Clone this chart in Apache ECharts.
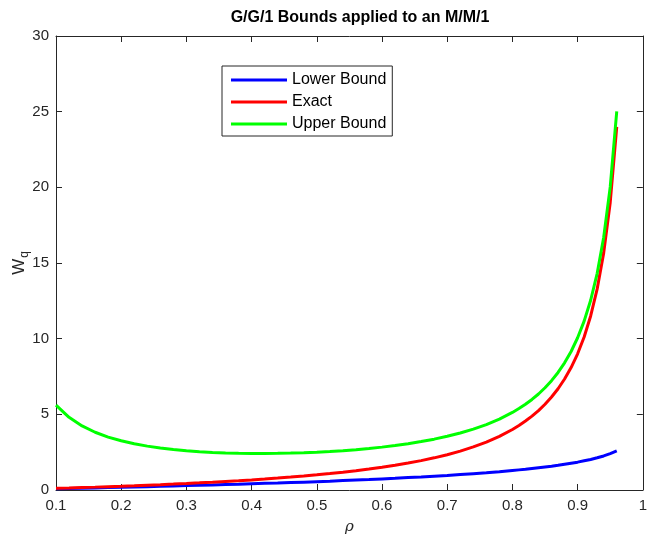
<!DOCTYPE html>
<html lang="en">
<head>
    <meta charset="UTF-8">
    <title>GG1 Bounds</title>
    <script src="https://cdn.jsdelivr.net/npm/echarts@6/dist/echarts.min.js"></script>
    <style type="text/css">
        html, body {
            margin: 0;
            width: 100%;
            height: 100%;
            background-color: #ffffff;
        }
        #chart {
            width: 650px;
            height: 542px;
        }
    </style>
</head>
<body>
    <div id="chart"></div>
    <script type="text/javascript">
        // rho values (x)
        var rho = [0.10, 0.12, 0.14, 0.16, 0.18, 0.20, 0.22, 0.24, 0.26, 0.28,
                   0.30, 0.32, 0.34, 0.36, 0.38, 0.40, 0.42, 0.44, 0.46, 0.48,
                   0.50, 0.52, 0.54, 0.56, 0.58, 0.60, 0.62, 0.64, 0.66, 0.68,
                   0.70, 0.72, 0.74, 0.76, 0.78, 0.80, 0.81, 0.82, 0.83, 0.84,
                   0.85, 0.86, 0.87, 0.88, 0.89, 0.90, 0.91, 0.92, 0.93, 0.94,
                   0.95, 0.96];
        // Wq
        var lowerBound = [0.08, 0.10, 0.12, 0.14, 0.16, 0.18, 0.20, 0.22, 0.24, 0.26,
                          0.29, 0.31, 0.33, 0.36, 0.38, 0.41, 0.44, 0.46, 0.49, 0.52,
                          0.55, 0.58, 0.62, 0.66, 0.69, 0.73, 0.77, 0.82, 0.86, 0.91,
                          0.96, 1.02, 1.08, 1.14, 1.21, 1.29, 1.33, 1.37, 1.42, 1.47,
                          1.52, 1.57, 1.63, 1.70, 1.77, 1.84, 1.93, 2.02, 2.13, 2.25,
                          2.40, 2.58];
        var exact = [0.111, 0.136, 0.163, 0.190, 0.220, 0.250, 0.282, 0.316, 0.351, 0.389,
                     0.429, 0.471, 0.515, 0.563, 0.613, 0.667, 0.724, 0.786, 0.852, 0.923,
                     1.000, 1.083, 1.174, 1.273, 1.381, 1.500, 1.632, 1.778, 1.941, 2.125,
                     2.333, 2.571, 2.846, 3.167, 3.545, 4.000, 4.263, 4.556, 4.882, 5.250,
                     5.667, 6.143, 6.692, 7.333, 8.091, 9.000, 10.11, 11.50, 13.29, 15.67,
                     19.00, 24.00];
        var upperBound = [5.611, 4.803, 4.234, 3.815, 3.497, 3.250, 3.055, 2.899, 2.774, 2.675,
                          2.595, 2.533, 2.486, 2.451, 2.429, 2.417, 2.415, 2.422, 2.439, 2.465,
                          2.500, 2.545, 2.600, 2.666, 2.743, 2.833, 2.938, 3.059, 3.199, 3.360,
                          3.548, 3.766, 4.022, 4.325, 4.687, 5.125, 5.380, 5.665, 5.985, 6.345,
                          6.755, 7.224, 7.767, 8.402, 9.153, 10.06, 11.16, 12.54, 14.32, 16.70,
                          20.03, 25.02];
        var seriesNames = ['Lower Bound', 'Exact', 'Upper Bound'];
        var seriesColors = ['#0000ff', '#ff0000', '#00ff00'];

        function pairs(ys) {
            var out = [];
            for (var i = 0; i < rho.length; i++) {
                out.push([rho[i], ys[i]]);
            }
            return out;
        }

        var axisColor = '#262626';
        var fontFamily = 'Liberation Sans, Arial, sans-serif';

        function xAxisDef(pos, showLabel) {
            return {
                type: 'value',
                position: pos,
                min: 0.1,
                max: 1,
                interval: 0.1,
                axisLine: { show: true, onZero: false, lineStyle: { color: axisColor, width: 1 } },
                axisTick: { show: true, inside: true, length: 6, lineStyle: { color: axisColor } },
                axisLabel: {
                    show: showLabel,
                    color: axisColor,
                    fontSize: 15,
                    fontFamily: fontFamily,
                    margin: 8,
                    formatter: function (v) { return String(+v.toFixed(1)); }
                },
                splitLine: { show: false }
            };
        }

        function yAxisDef(pos, showLabel) {
            return {
                type: 'value',
                position: pos,
                min: 0,
                max: 30,
                interval: 5,
                axisLine: { show: true, onZero: false, lineStyle: { color: axisColor, width: 1 } },
                axisTick: { show: true, inside: true, length: 6, lineStyle: { color: axisColor } },
                axisLabel: {
                    show: showLabel,
                    color: axisColor,
                    fontSize: 15,
                    fontFamily: fontFamily,
                    margin: 7
                },
                splitLine: { show: false }
            };
        }

        var myChart = echarts.init(document.getElementById('chart'));

        var xBottom = xAxisDef('bottom', true);
        xBottom.name = 'ρ';
        xBottom.nameLocation = 'middle';
        xBottom.nameGap = 30;
        xBottom.nameTextStyle = { color: axisColor, fontSize: 15, fontStyle: 'italic', fontFamily: 'DejaVu Serif, serif' };

        var yLeft = yAxisDef('left', true);
        yLeft.name = '{a|W}{b|q}';
        yLeft.nameLocation = 'middle';
        yLeft.nameGap = 25;
        yLeft.nameMoveOverlap = false;
        yLeft.nameRotate = 90;
        yLeft.nameTextStyle = {
            color: axisColor,
            fontFamily: fontFamily,
            rich: {
                a: { fontSize: 17, color: axisColor, fontFamily: fontFamily },
                b: { fontSize: 12, color: axisColor, fontFamily: fontFamily, padding: [11, 0, 0, 1] }
            }
        };

        var series = [];
        var ysList = [lowerBound, exact, upperBound];
        for (var s = 0; s < ysList.length; s++) {
            series.push({
                name: seriesNames[s],
                type: 'line',
                xAxisIndex: 0,
                yAxisIndex: 0,
                data: pairs(ysList[s]),
                showSymbol: false,
                symbol: 'none',
                smooth: false,
                lineStyle: { color: seriesColors[s], width: 3 },
                itemStyle: { color: seriesColors[s] }
            });
        }

        var option = {
            backgroundColor: '#ffffff',
            animation: false,
            title: {
                text: 'G/G/1 Bounds applied to an M/M/1',
                left: 355,
                textAlign: 'center',
                top: 5,
                textStyle: { color: '#000000', fontSize: 16, fontWeight: 'bold', fontFamily: fontFamily }
            },
            legend: {
                data: seriesNames,
                orient: 'vertical',
                left: 222,
                top: 66,
                icon: 'rect',
                itemWidth: 56,
                itemHeight: 3,
                itemGap: 6,
                padding: [6, 6, 4, 9],
                borderColor: axisColor,
                borderWidth: 1,
                backgroundColor: '#ffffff',
                textStyle: { color: '#000000', fontSize: 16, lineHeight: 16, fontFamily: fontFamily }
            },
            grid: { left: 56, right: 4, top: 36, bottom: 52, containLabel: false },
            xAxis: [xBottom, xAxisDef('top', false)],
            yAxis: [yLeft, yAxisDef('right', false)],
            series: series
        };

        myChart.setOption(option);
    </script>
</body>
</html>
